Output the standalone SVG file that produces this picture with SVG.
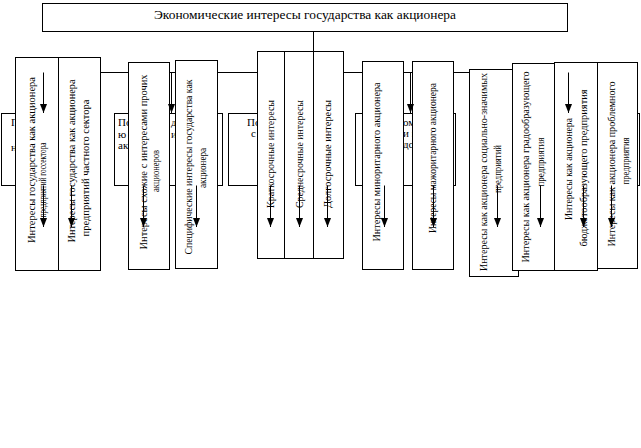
<svg xmlns="http://www.w3.org/2000/svg" width="641" height="448" viewBox="0 0 641 448">
<style>
.b{fill:#fff;stroke:#000;stroke-width:1}
.t{font-family:"Liberation Serif","Times New Roman",serif;font-size:11px;fill:#000}
.tt{font-family:"Liberation Serif","Times New Roman",serif;font-size:13px;fill:#000}
.c{stroke:#000;stroke-width:1;fill:none}
.ar{stroke:#000;stroke-width:1;fill:none;marker-end:url(#ah)}
</style>
<defs>
<marker id="ah" markerUnits="userSpaceOnUse" markerWidth="10" markerHeight="8" refX="9" refY="3.5" orient="auto">
<path d="M0,0 L9,3.5 L0,7 z" fill="#000"/>
</marker>
</defs>

<g id="top">
<rect class="b" x="42.5" y="3.5" width="525" height="28"/>
<text class="tt" x="305" y="19" text-anchor="middle" textLength="302" lengthAdjust="spacingAndGlyphs">Экономические интересы государства как акционера</text>
</g>

<g id="cat1">
<rect class="b" x="1.5" y="113.5" width="93" height="72"/>
<text class="t" x="11" y="126">П</text>
<text class="t" x="11" y="151">н</text>
</g>
<g id="cat2">
<rect class="b" x="114.5" y="113.5" width="108" height="72"/>
<text class="t" x="118" y="126">По</text>
<text class="t" x="171" y="126">д</text>
<text class="t" x="118" y="138">ю</text>
<text class="t" x="171" y="138">и</text>
<text class="t" x="118" y="149">ак</text>
</g>
<g id="cat3">
<rect class="b" x="228.5" y="113.5" width="100" height="72"/>
<text class="t" x="247" y="126">По</text>
<text class="t" x="251" y="137">с</text>
</g>
<g id="cat4">
<rect class="b" x="355.5" y="113.5" width="100" height="72"/>
<text class="t" x="403" y="126">ом</text>
<text class="t" x="403" y="137">и г</text>
<text class="t" x="403" y="148">дс</text>
</g>
<g id="cat5">
<rect class="b" x="470.5" y="113.5" width="169" height="72"/>
</g>

<g id="bus">
<path class="c" d="M43.5,72.5 H612 M313.5,31.5 V51.5"/>
</g>

<g id="nA">
<rect class="b" x="15.5" y="57.5" width="43" height="213"/>
<text class="t" transform="translate(34.5,160) rotate(-90)" text-anchor="middle" textLength="166" lengthAdjust="spacingAndGlyphs">Интересы государства как акционера</text>
<text class="t" transform="translate(45.5,180) rotate(-90)" text-anchor="middle" textLength="75" lengthAdjust="spacingAndGlyphs">предприятий госсектора</text>
</g>
<g id="nB">
<rect class="b" x="58.5" y="57.5" width="42" height="213"/>
<text class="t" transform="translate(74.5,161) rotate(-90)" text-anchor="middle" textLength="163" lengthAdjust="spacingAndGlyphs">Интересы государства как акционера</text>
<text class="t" transform="translate(88.5,168) rotate(-90)" text-anchor="middle" textLength="137" lengthAdjust="spacingAndGlyphs">предприятий частного сектора</text>
</g>
<g id="nC">
<rect class="b" x="128.5" y="62.5" width="41" height="207"/>
<text class="t" transform="translate(146.5,162) rotate(-90)" text-anchor="middle" textLength="175" lengthAdjust="spacingAndGlyphs">Интересы схожие с интересами прочих</text>
<text class="t" transform="translate(158.5,171) rotate(-90)" text-anchor="middle" textLength="42" lengthAdjust="spacingAndGlyphs">акционеров</text>
</g>
<g id="nD">
<rect class="b" x="175.5" y="60.5" width="42" height="208"/>
<text class="t" transform="translate(191.5,167) rotate(-90)" text-anchor="middle" textLength="175" lengthAdjust="spacingAndGlyphs">Специфические интересы государства как</text>
<text class="t" transform="translate(205.5,168) rotate(-90)" text-anchor="middle" textLength="40" lengthAdjust="spacingAndGlyphs">акционера</text>
</g>
<g id="nE1">
<rect class="b" x="257.5" y="51.5" width="27" height="207"/>
<text class="t" transform="translate(273.5,154) rotate(-90)" text-anchor="middle" textLength="108" lengthAdjust="spacingAndGlyphs">Краткосрочные интересы</text>
</g>
<g id="nE2">
<rect class="b" x="284.5" y="51.5" width="29" height="207"/>
<text class="t" transform="translate(302.5,154) rotate(-90)" text-anchor="middle" textLength="108" lengthAdjust="spacingAndGlyphs">Среднесрочные интересы</text>
</g>
<g id="nE3">
<rect class="b" x="313.5" y="51.5" width="30" height="207"/>
<text class="t" transform="translate(330.5,154) rotate(-90)" text-anchor="middle" textLength="108" lengthAdjust="spacingAndGlyphs">Долгосрочные интересы</text>
</g>
<g id="nF">
<rect class="b" x="362.5" y="61.5" width="41" height="208"/>
<text class="t" transform="translate(379.5,162) rotate(-90)" text-anchor="middle" textLength="159" lengthAdjust="spacingAndGlyphs">Интересы миноритарного акционера</text>
</g>
<g id="nG">
<rect class="b" x="412.5" y="61.5" width="41" height="208"/>
<text class="t" transform="translate(435.5,158) rotate(-90)" text-anchor="middle" textLength="150" lengthAdjust="spacingAndGlyphs">Интересы мажоритарного акционера</text>
</g>
<g id="nH">
<rect class="b" x="469.5" y="69.5" width="49" height="207"/>
<text class="t" transform="translate(486.5,172) rotate(-90)" text-anchor="middle" textLength="198" lengthAdjust="spacingAndGlyphs">Интересы как акционера социально-значимых</text>
<text class="t" transform="translate(500.5,169) rotate(-90)" text-anchor="middle" textLength="48" lengthAdjust="spacingAndGlyphs">предприятий</text>
</g>
<g id="nI">
<rect class="b" x="512.5" y="63.5" width="42" height="207"/>
<text class="t" transform="translate(528.5,167) rotate(-90)" text-anchor="middle" textLength="191" lengthAdjust="spacingAndGlyphs">Интересы как акционера градообразующего</text>
<text class="t" transform="translate(543.5,162) rotate(-90)" text-anchor="middle" textLength="49" lengthAdjust="spacingAndGlyphs">предприятия</text>
</g>
<g id="nJ">
<rect class="b" x="554.5" y="62.5" width="43" height="208"/>
<text class="t" transform="translate(571.5,169) rotate(-90)" text-anchor="middle" textLength="102" lengthAdjust="spacingAndGlyphs">Интересы как акционера</text>
<text class="t" transform="translate(586.5,168) rotate(-90)" text-anchor="middle" textLength="157" lengthAdjust="spacingAndGlyphs">бюджетообразующего предприятия</text>
</g>
<g id="nL">
<rect class="b" x="597.5" y="62.5" width="40" height="206"/>
<text class="t" transform="translate(614.5,164) rotate(-90)" text-anchor="middle" textLength="165" lengthAdjust="spacingAndGlyphs">Интересы как акционера проблемного</text>
<text class="t" transform="translate(628.5,161) rotate(-90)" text-anchor="middle" textLength="47" lengthAdjust="spacingAndGlyphs">предприятия</text>
</g>

<g id="connectors">
<path class="ar" d="M43.5,72.5 V113"/>
<path class="ar" d="M171.5,72.5 V113"/>
<path class="ar" d="M410.5,72.5 V113"/>
<path class="ar" d="M568.5,72.5 V113"/>
<path class="ar" d="M43.5,185.5 V227"/>
<path class="ar" d="M71.5,185.5 V227"/>
<path class="ar" d="M143.5,185.5 V227"/>
<path class="ar" d="M196.5,185.5 V227"/>
<path class="ar" d="M270.5,185.5 V227"/>
<path class="ar" d="M299.5,185.5 V227"/>
<path class="ar" d="M327.5,185.5 V227"/>
<path class="ar" d="M384.5,185.5 V227"/>
<path class="ar" d="M433.5,185.5 V227"/>
<path class="ar" d="M497.5,185.5 V227"/>
<path class="ar" d="M540.5,185.5 V227"/>
<path class="ar" d="M583.5,185.5 V227"/>
<path class="ar" d="M611.5,185.5 V227"/>
</g>
</svg>
